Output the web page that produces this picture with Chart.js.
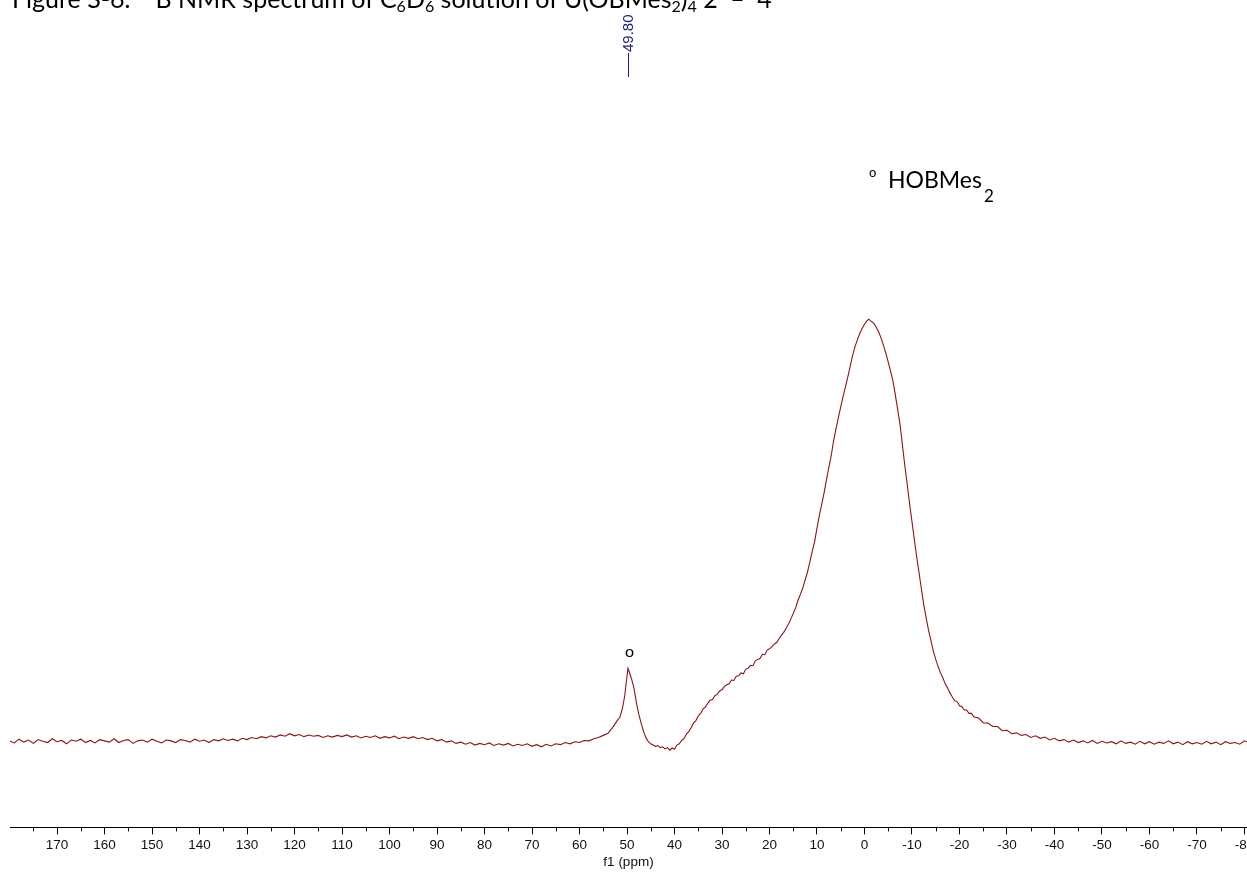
<!DOCTYPE html>
<html>
<head>
<meta charset="utf-8">
<title>11B NMR spectrum</title>
<script src="https://cdn.jsdelivr.net/npm/chart.js@4.4.1/dist/chart.umd.min.js"></script>
<style>
  html, body { margin: 0; padding: 0; background: #fff; overflow: hidden; }
  #wrap { position: relative; width: 1247px; height: 874px; }
  #spectrum { position: absolute; left: 0; top: 0; }
  #caption {
    position: absolute; left: 12px; top: -14px; white-space: nowrap;
    font-family: Lato, "Open Sans", sans-serif; font-size: 25px; line-height: 25px; color: #000;
  }
  #caption sub { font-size: 16px; line-height: 0; vertical-align: -4px; }
  #caption sup { font-size: 16px; line-height: 0; vertical-align: super; }
</style>
</head>
<body>
<div id="wrap">
  <canvas id="spectrum" width="1247" height="874"></canvas>
  <div id="caption">Figure S-6. <sup>11</sup>B NMR spectrum of C<sub>6</sub>D<sub>6</sub> solution of U(OBMes<sub>2</sub>)<sub>4</sub> 2&ensp;–&ensp;4</div>
</div>
<script>
// axis ticks (ppm)
const majorTicks = [170, 160, 150, 140, 130, 120, 110, 100, 90, 80, 70, 60, 50, 40, 30, 20, 10, 0,
  -10, -20, -30, -40, -50, -60, -70, -80];
const minorTicks = [175, 165, 155, 145, 135, 125, 115, 105, 95, 85, 75, 65, 55, 45, 35, 25, 15, 5,
  -5, -15, -25, -35, -45, -55, -65, -75];

// picked peak
const peakShift = 49.80;

// trace, [ppm, intensity], intensity scaled so the main resonance = 100
const lowFieldTrace = [
  [180, 0.1], [179, -0.4], [178, 0.5], [177, -0.2], [176, 0.3], [175, -0.5], [174, 0.4], [173, 0.0], [172, -0.3], [171, 0.6],
  [170, -0.1], [169, 0.2], [168, -0.6], [167, 0.3], [166, 0.0], [165, 0.5], [164, -0.3], [163, 0.2], [162, -0.4], [161, 0.4],
  [160, 0.1], [159, -0.2], [158, 0.6], [157, -0.3], [156, 0.2], [155, 0.4], [154, -0.5], [153, 0.1], [152, 0.3], [151, -0.2],
  [150, 0.5], [149, 0.0], [148, -0.4], [147, 0.3], [146, 0.1], [145, -0.3], [144, 0.4], [143, 0.2], [142, -0.2], [141, 0.5],
  [140, 0.0], [139, 0.3], [138, -0.3], [137, 0.4], [136, 0.1], [135, 0.6], [134, 0.2], [133, 0.5], [132, 0.1], [131, 0.7],
  [130, 0.4], [129, 0.9], [128, 0.6], [127, 1.1], [126, 0.8], [125, 1.3], [124, 1.0], [123, 1.5], [122, 1.2], [121, 1.8],
  [120, 1.3], [119, 1.6], [118, 1.1], [117, 1.5], [116, 1.2], [115, 1.4], [114, 0.9], [113, 1.3], [112, 1.0], [111, 1.4],
  [110, 1.1], [109, 1.5], [108, 1.0], [107, 1.3], [106, 0.8], [105, 1.2], [104, 0.9], [103, 1.3], [102, 0.7], [101, 1.1],
  [100, 0.8], [99, 1.2], [98, 0.6], [97, 1.0], [96, 0.7], [95, 1.1], [94, 0.6], [93, 0.9], [92, 0.4], [91, 0.7],
  [90, 0.1], [89, 0.4], [88, -0.2], [87, 0.1], [86, -0.5], [85, -0.2], [84, -0.7], [83, -0.3], [82, -0.9], [81, -0.5],
  [80, -0.8], [79, -0.4], [78, -1.0], [77, -0.6], [76, -0.9], [75, -0.5], [74, -1.1], [73, -0.7], [72, -1.0], [71, -0.6],
  [70, -1.2], [69, -0.8], [68, -1.3], [67, -0.7], [66, -1.1], [65, -0.6], [64, -0.8], [63, -0.3], [62, -0.6], [61, -0.1],
  [60, -0.3], [59, 0.2], [58, 0.1], [57, 0.6], [56, 0.9], [55, 1.4], [54, 1.9]
];

const peakTrace = [
  [53, 3.3], [52, 5.0], [51.5, 5.7], [51, 7.6], [50.5, 10.6], [50.2, 13.5], [49.8, 17.3], [49.4, 16.0], [49, 14.6],
  [48.5, 12.4], [48, 9.0], [47.5, 6.3], [47, 4.2], [46.5, 2.3], [46, 0.8], [45.5, -0.1], [45, -0.6], [44.5, -0.9],
  [44, -1.2], [43.5, -1.0], [43, -1.5], [42.5, -1.3], [42, -1.8], [41.5, -1.5], [41, -2.1], [40.5, -1.6], [40, -1.9],
  [39.5, -0.9], [39, -0.6], [38.5, 0.2], [38, 0.6], [37.5, 1.7], [37, 2.3], [36.5, 3.2], [36, 4.3], [35.5, 4.9],
  [35, 6.0], [34.5, 6.6], [34, 7.6], [33.5, 8.1], [33, 9.0], [32.5, 9.7], [32, 9.9], [31.5, 10.8], [31, 11.1],
  [30.5, 11.9], [30, 12.2], [29.5, 13.0], [29, 13.4], [28.5, 13.6], [28, 14.5], [27.5, 14.4], [27, 15.4], [26.5, 15.5],
  [26, 16.2], [25.5, 16.0], [25, 17.1], [24.5, 17.3], [24, 18.0], [23.5, 17.9], [23, 19.0], [22.5, 19.4], [22, 19.6],
  [21.5, 20.6], [21, 20.5], [20.5, 21.6], [20, 21.9], [19.5, 22.4], [19, 23.0], [18.5, 23.4], [18, 24.3], [17.5, 25.1],
  [17, 25.8], [16.5, 26.8], [16, 27.8], [15.5, 29.0], [15, 30.3], [14.5, 31.6], [14, 33.4], [13.5, 34.8], [13, 36.3],
  [12.5, 38.2], [12, 40.1], [11.5, 42.5], [11, 45.0], [10.5, 47.3], [10, 50.5], [9.5, 53.5], [9, 56.2], [8.5, 58.9],
  [8, 62.0], [7.5, 64.9], [7, 67.7], [6.5, 71.2], [6, 74.0], [5.5, 76.7], [5, 79.2], [4.5, 81.7], [4, 84.0],
  [3.5, 86.4], [3, 88.9], [2.5, 91.4], [2, 93.5], [1.5, 95.1], [1, 96.6], [0.5, 97.8], [0, 98.8], [-0.5, 99.6],
  [-0.9, 100], [-1.3, 99.6], [-2, 99.0], [-2.5, 98.0], [-3, 96.9], [-3.5, 95.5], [-4, 93.8], [-4.5, 91.9], [-5, 89.8],
  [-5.5, 87.6], [-6, 85.3], [-6.5, 82.0], [-7, 78.5], [-7.5, 74.9], [-8, 70.0], [-8.5, 65.2], [-9, 60.8], [-9.5, 56.2],
  [-10, 52.0], [-10.5, 47.7], [-11, 43.6], [-11.5, 39.8], [-12, 35.9], [-12.5, 32.2], [-13, 29.1], [-13.5, 26.2],
  [-14, 23.8], [-14.5, 21.3], [-15, 19.4], [-15.5, 17.7], [-16, 16.2], [-16.5, 15.0], [-17, 13.6], [-17.5, 12.6],
  [-18, 11.4], [-18.5, 10.5], [-19, 9.6], [-19.5, 9.4], [-20, 8.4], [-20.5, 8.2], [-21, 7.4], [-21.5, 7.4],
  [-22, 6.6], [-22.5, 6.6], [-23, 5.8]
];

const highFieldTrace = [
  [-24, 5.5], [-25, 4.4], [-26, 4.3], [-27, 3.5], [-28, 3.5], [-29, 2.5], [-30, 2.6], [-31, 1.8], [-32, 2.0], [-33, 1.4],
  [-34, 1.6], [-35, 0.9], [-36, 1.3], [-37, 0.7], [-38, 1.0], [-39, 0.3], [-40, 0.7], [-41, 0.1], [-42, 0.4], [-43, -0.2],
  [-44, 0.3], [-45, -0.3], [-46, 0.1], [-47, -0.4], [-48, 0.2], [-49, -0.5], [-50, 0.0], [-51, -0.4], [-52, -0.1], [-53, -0.6],
  [-54, 0.1], [-55, -0.5], [-56, -0.2], [-57, -0.7], [-58, 0.0], [-59, -0.6], [-60, -0.1], [-61, -0.7], [-62, -0.2], [-63, -0.5],
  [-64, 0.1], [-65, -0.6], [-66, -0.2], [-67, -0.8], [-68, -0.1], [-69, -0.6], [-70, -0.3], [-71, -0.7], [-72, 0.0], [-73, -0.6],
  [-74, -0.2], [-75, -0.8], [-76, -0.1], [-77, -0.5], [-78, -0.3], [-79, -0.7], [-80, 0.1], [-81, -0.4]
];

const trace = lowFieldTrace.concat(peakTrace, highFieldTrace).map(([x, y]) => ({ x, y }));
const peakHeight = peakTrace.find(p => p[0] === peakShift)[1];

const tickFont = { family: "'Liberation Sans', Arial, sans-serif", size: 13.5 };
const axisTitleFont = { family: "'Liberation Sans', Arial, sans-serif", size: 13.5 };

// peak label, peak marker and the side note
const annotations = {
  id: 'annotations',
  afterDatasetsDraw(chart) {
    const { ctx } = chart;
    const xs = chart.scales.x, ys = chart.scales.y;
    const px = Math.round(xs.getPixelForValue(peakShift)) + 0.5;
    ctx.save();

    // minor ticks, shorter than the labelled ones
    ctx.strokeStyle = '#000';
    ctx.lineWidth = 1;
    ctx.beginPath();
    minorTicks.forEach(v => {
      const tx = Math.round(xs.getPixelForValue(v)) + 0.5;
      ctx.moveTo(tx, xs.top);
      ctx.lineTo(tx, xs.top + 4);
    });
    ctx.stroke();

    // chemical shift label at the top
    ctx.strokeStyle = '#1c1c80';
    ctx.beginPath();
    ctx.moveTo(px, 53);
    ctx.lineTo(px, 77);
    ctx.stroke();
    ctx.translate(px, 52);
    ctx.rotate(-Math.PI / 2);
    ctx.fillStyle = '#1c1c80';
    ctx.font = "15px 'Liberation Sans', Arial, sans-serif";
    ctx.textAlign = 'left';
    ctx.textBaseline = 'middle';
    ctx.fillText(peakShift.toFixed(2), 0, 0);
    ctx.setTransform(1, 0, 0, 1, 0, 0);

    // marker over the small peak
    ctx.fillStyle = '#000';
    ctx.font = "16px Lato, 'Open Sans', sans-serif";
    ctx.textAlign = 'center';
    ctx.textBaseline = 'alphabetic';
    ctx.fillText('o', px + 1, ys.getPixelForValue(peakHeight) - 11);

    // side note
    ctx.textAlign = 'left';
    ctx.font = "13px Lato, 'Open Sans', sans-serif";
    ctx.fillText('o', 869, 177);
    ctx.font = "23px Lato, 'Open Sans', sans-serif";
    ctx.fillText('HOBMes', 888, 188);
    const w = ctx.measureText('HOBMes').width;
    ctx.font = "17px Lato, 'Open Sans', sans-serif";
    ctx.fillText('2', 888 + w + 2, 202);
    ctx.restore();
  }
};

new Chart(document.getElementById('spectrum'), {
  type: 'line',
  data: {
    datasets: [{
      data: trace,
      borderColor: '#8c1414',
      borderWidth: 1.1,
      pointRadius: 0,
      tension: 0,
      fill: false
    }]
  },
  options: {
    responsive: false,
    animation: false,
    devicePixelRatio: 1,
    layout: { padding: { left: 10, right: 0, top: 0, bottom: 3.4 } },
    plugins: { legend: { display: false }, tooltip: { enabled: false } },
    scales: {
      x: {
        type: 'linear',
        reverse: true,
        min: -80.53,
        max: 179.9,
        afterBuildTicks: scale => {
          scale.ticks = majorTicks.map(v => ({ value: v }));
        },
        afterFit: scale => {
          scale.paddingLeft = 0;
          scale.paddingRight = 0;
        },
        grid: { drawOnChartArea: false, drawTicks: true, tickLength: 7, tickColor: '#000', tickWidth: 1 },
        border: { display: true, color: '#000', width: 1 },
        ticks: {
          autoSkip: false, maxRotation: 0, minRotation: 0, padding: 2.5,
          color: '#111', font: tickFont,
          callback: v => String(v)
        },
        title: { display: true, text: 'f1 (ppm)', color: '#111', font: axisTitleFont, padding: { top: -1.2, bottom: 0 } }
      },
      y: { type: 'linear', display: false, min: -20.4, max: 175.6 }
    }
  },
  plugins: [annotations]
});
</script>
</body>
</html>
